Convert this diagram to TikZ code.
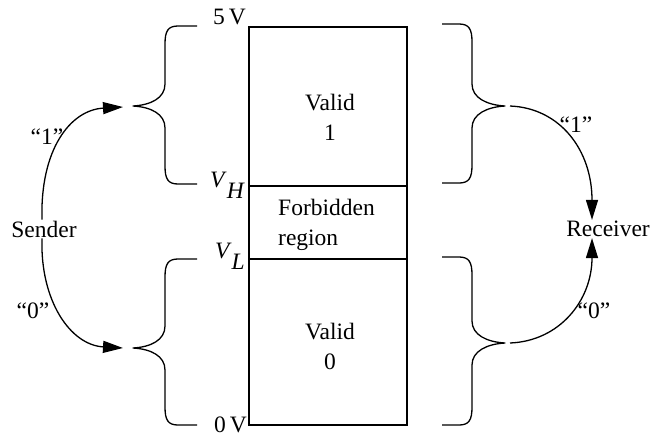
\documentclass[tikz,border=0pt]{standalone}
\usepackage{fontspec}
\setmainfont{Liberation Serif}
\usetikzlibrary{arrows.meta}
\newcommand\LBrace[6]{% xe xs xt ytop ytip ybot
  \draw[bracestyle] (#1,#4) -- ({#2+13},#4) .. controls ({#2+3},#4) and (#2,{#4+5}) .. (#2,{#4+18})
    -- (#2,{#5-22}) .. controls (#2,{#5-8}) and ({#3+18},{#5-1}) .. (#3,#5)
    .. controls ({#3+18},{#5+1}) and (#2,{#5+8}) .. (#2,{#5+22})
    -- (#2,{#6-18}) .. controls (#2,{#6-5}) and ({#2+3},#6) .. ({#2+13},#6) -- (#1,#6);}
\newcommand\RBrace[6]{% xe xs xt ytop ytip ybot
  \draw[bracestyle] (#1,#4) -- ({#2-13},#4) .. controls ({#2-3},#4) and (#2,{#4+5}) .. (#2,{#4+18})
    -- (#2,{#5-22}) .. controls (#2,{#5-8}) and ({#3-18},{#5-1}) .. (#3,#5)
    .. controls ({#3-18},{#5+1}) and (#2,{#5+8}) .. (#2,{#5+22})
    -- (#2,{#6-18}) .. controls (#2,{#6-5}) and ({#2-3},#6) .. ({#2-13},#6) -- (#1,#6);}
\begin{document}
\begin{tikzpicture}[x=1pt,y=-1pt,
  every node/.style={font=\fontsize{23.5}{30}\selectfont, inner sep=1pt},
  bracestyle/.style={line width=1.3pt, line join=round},
  boxline/.style={line width=1.3pt},
  arr/.style={line width=1.3pt, -{Triangle[length=20pt,width=12pt]}}]
\useasboundingbox (0,0) rectangle (652,437);
% box
\draw[boxline] (249,27) rectangle (407,425);
\draw[boxline] (249,186) -- (407,186);
\draw[boxline] (249,259) -- (407,259);
\node (valid1) [align=center] at (330,117) {Valid\\1};
\node (forb) [align=left, anchor=west, inner sep=0pt] at (278,225) {Forbidden\\region};
\node (valid0) [align=center] at (330,346) {Valid\\0};
% level labels
\node (v5) [anchor=east] at (247,17) {5\,V};
\node (vh) [anchor=base east] at (246,187) {\textit{V}\raisebox{-11pt}{\textit{H}}};
\node (vl) [anchor=base east] at (246,258) {\textit{V}\raisebox{-11pt}{\textit{L}}};
\node (v0) [anchor=base east, inner sep=0pt] at (247,432) {0\,V};
% braces
\LBrace{197}{165}{133}{26}{106}{184}
\LBrace{197}{165}{133}{259}{348}{425}
\RBrace{442}{472}{505}{24}{106}{183}
\RBrace{442}{472}{505}{257}{343}{425}
% sender / receiver
\node (snd) at (44,229) {Sender};
\node (rcv) at (608,229) {Receiver};
\coordinate (l1) at (123,107);
\coordinate (l0) at (123,348);
\coordinate (r1) at (510,106);
\coordinate (r0) at (510,343);
\draw[arr] ([xshift=-2pt]snd.north) .. controls (40,150) and (70,110) .. (l1);
\draw[arr] ([xshift=-2pt]snd.south) .. controls (40,300) and (70,345) .. (l0);
\draw[arr] (r1) .. controls (560,108) and (592,150) .. ([xshift=-16pt]rcv.north);
\draw[arr] (r0) .. controls (560,341) and (592,300) .. ([xshift=-16pt]rcv.south);
\node (q1l) at (47,137) {“1”};
\node (q0l) at (33,311) {“0”};
\node (q1r) at (576,125) {“1”};
\node (q0r) at (594,311) {“0”};
\end{tikzpicture}
\end{document}
